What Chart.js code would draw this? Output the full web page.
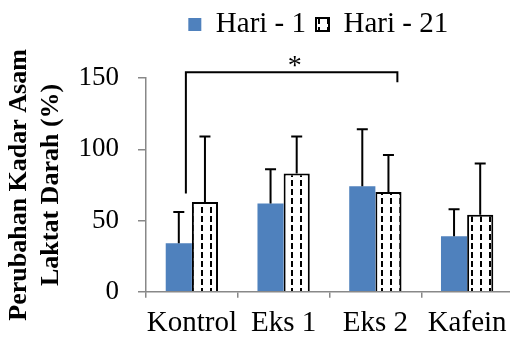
<!DOCTYPE html>
<html>
<head>
<meta charset="utf-8">
<script src="https://cdn.jsdelivr.net/npm/chart.js@4.4.1/dist/chart.umd.min.js"></script>
<style>
  html, body { margin: 0; padding: 0; background: #fff; overflow: hidden; }
  canvas { display: block; }
</style>
</head>
<body>
<canvas id="chart" width="514" height="341"></canvas>
<script>
// data
const categories = ['Kontrol', 'Eks 1', 'Eks 2', 'Kafein'];
const seriesNames = ['Hari - 1', 'Hari - 21'];
const hari1 = [34, 62, 74, 39];
const hari21 = [63, 83, 70, 54];
const hari1Sd = [22, 24, 40, 19];
const hari21Sd = [46, 26, 26, 36];
const yTicks = [0, 50, 100, 150];
const yTitle = ['Perubahan Kadar Asam', 'Laktat Darah (%)'];
// significance bracket: Kontrol vs Eks 2
const sigPair = [0, 2];
const sigLevel = 154;
const sigLegs = [69, 147];
const sigLabel = '*';

Chart.defaults.font.family = "'Liberation Serif', 'Times New Roman', serif";
Chart.defaults.color = '#000';

// white fill with dashed vertical lines
function makeHatch() {
    const c = document.createElement('canvas');
    c.width = 9;
    c.height = 9;
    const g = c.getContext('2d');
    g.fillStyle = '#fff';
    g.fillRect(0, 0, 9, 9);
    g.fillStyle = '#000';
    g.fillRect(3, 0, 2, 6);
    return g.createPattern(c, 'repeat');
}

const errorBars = {
    id: 'errorBars',
    afterDatasetsDraw(chart) {
        const ctx = chart.ctx;
        const y = chart.scales.y;
        const sds = [hari1Sd, hari21Sd];
        ctx.save();
        ctx.strokeStyle = '#000';
        ctx.lineWidth = 2;
        chart.data.datasets.forEach((ds, d) => {
            const meta = chart.getDatasetMeta(d);
            meta.data.forEach((bar, i) => {
                const top = y.getPixelForValue(ds.data[i] + sds[d][i]);
                ctx.beginPath();
                ctx.moveTo(bar.x, bar.y);
                ctx.lineTo(bar.x, top);
                ctx.moveTo(bar.x - 5.5, top);
                ctx.lineTo(bar.x + 5.5, top);
                ctx.stroke();
            });
        });
        ctx.restore();
    }
};

const bracket = {
    id: 'bracket',
    afterDatasetsDraw(chart) {
        const ctx = chart.ctx;
        const x = chart.scales.x, y = chart.scales.y;
        const x1 = x.getPixelForValue(sigPair[0]) - 6;
        const x2 = x.getPixelForValue(sigPair[1]) + 22;
        const yl = y.getPixelForValue(sigLevel);
        ctx.save();
        ctx.strokeStyle = '#000';
        ctx.lineWidth = 2;
        ctx.beginPath();
        ctx.moveTo(x1, y.getPixelForValue(sigLegs[0]));
        ctx.lineTo(x1, yl);
        ctx.lineTo(x2, yl);
        ctx.lineTo(x2, y.getPixelForValue(sigLegs[1]));
        ctx.stroke();
        ctx.fillStyle = '#000';
        ctx.font = "28px 'Liberation Serif'";
        ctx.textAlign = 'center';
        ctx.textBaseline = 'alphabetic';
        ctx.fillText(sigLabel, (x1 + x2) / 2 + 3, yl + 2);
        ctx.restore();
    }
};

// legend sits right of centre and has extra room below it
const legendTweak = {
    id: 'legendTweak',
    beforeInit(chart) {
        const fit = chart.legend.fit;
        chart.legend.fit = function () {
            fit.call(this);
            this.height += 29;
        };
    },
    afterLayout(chart) {
        chart.legend.left += 60;
        chart.legend.right += 60;
    }
};

new Chart(document.getElementById('chart'), {
    type: 'bar',
    data: {
        labels: categories,
        datasets: [{
            label: seriesNames[0],
            data: hari1,
            backgroundColor: '#4F81BD',
            borderWidth: 0
        }, {
            label: seriesNames[1],
            data: hari21,
            backgroundColor: makeHatch(),
            borderColor: '#000',
            borderWidth: 2
        }]
    },
    options: {
        responsive: false,
        animation: false,
        categoryPercentage: 0.57,
        barPercentage: 1.0,
        layout: { padding: { left: 3.5, right: 1, top: 0, bottom: -8 } },
        plugins: {
            legend: {
                position: 'top',
                labels: {
                    font: { size: 29, lineHeight: 1.0 },
                    boxWidth: 13,
                    boxHeight: 13,
                    padding: 10
                }
            },
            tooltip: { enabled: false }
        },
        scales: {
            x: {
                afterFit(axis) { axis.paddingLeft = 0; axis.paddingRight = 0; },
                grid: { drawOnChartArea: false, tickLength: 6, color: '#888', lineWidth: 1.5 },
                border: { color: '#888', width: 1.5 },
                ticks: { font: { size: 29, lineHeight: 0.8 }, padding: 14, maxRotation: 0, autoSkip: false }
            },
            y: {
                min: yTicks[0],
                max: yTicks[yTicks.length - 1],
                afterBuildTicks(axis) { axis.ticks = yTicks.map(v => ({ value: v })); },
                afterFit(axis) { axis.width = 142.5; },
                grid: { drawOnChartArea: false, tickLength: 8, color: '#888', lineWidth: 1.5 },
                border: { color: '#888', width: 1.5 },
                ticks: { font: { size: 27 }, padding: 19 },
                title: {
                    display: true,
                    text: yTitle,
                    font: { size: 26, weight: 'bold', lineHeight: 1.23 },
                    padding: { top: 0, bottom: 0 }
                }
            }
        }
    },
    plugins: [errorBars, bracket, legendTweak]
});
</script>
</body>
</html>
